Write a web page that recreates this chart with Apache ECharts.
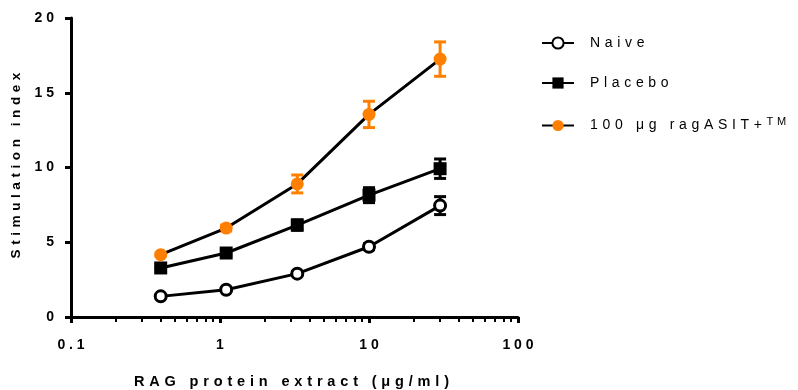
<!DOCTYPE html>
<html><head><meta charset="utf-8">
<script src="https://cdn.jsdelivr.net/npm/echarts@6/dist/echarts.min.js"></script>
<style>html,body{margin:0;padding:0;background:#fff}#c{width:798px;height:390px}</style>
</head><body><div id="c"></div>
<script>
var concentrations = [0.4, 1.1, 3.3, 10, 30];
var naiveValues = [1.38, 1.82, 2.9, 4.7, 7.45];
var naiveErrors = [0.1, 0.1, 0.15, 0.2, 0.6];
var placeboValues = [3.28, 4.28, 6.15, 8.15, 9.92];
var placeboErrors = [0.1, 0.15, 0.35, 0.5, 0.65];
var ragValues = [4.17, 5.95, 8.9, 13.55, 17.25];
var ragErrors = [0.1, 0.2, 0.6, 0.88, 1.15];
var seriesNames = ['Naive', 'Placebo', '100 μg ragASIT+'];
var yTicks = [0, 5, 10, 15, 20];
var xTicks = [0.1, 1, 10, 100];

function spaced(s, sep){ return String(s).split('').join(sep || ' '); }

function pts(vals){ return concentrations.map(function(c,i){return [c, vals[i]];}); }
function errData(vals, errs){ return concentrations.map(function(c,i){return [c, vals[i], errs[i]];}); }

function errSeries(vals, errs, color){
  return {
    type:'custom', data: errData(vals, errs), z: 1, silent:true,
    renderItem: function(params, api){
      var x = api.value(0), y = api.value(1), e = api.value(2);
      var top = api.coord([x, y+e]), bot = api.coord([x, y-e]);
      var hw = 6;
      return {type:'group', children:[
        {type:'line', shape:{x1:top[0],y1:top[1],x2:bot[0],y2:bot[1]}, style:{stroke:color,lineWidth:3}},
        {type:'line', shape:{x1:top[0]-hw,y1:top[1],x2:top[0]+hw,y2:top[1]}, style:{stroke:color,lineWidth:3}},
        {type:'line', shape:{x1:bot[0]-hw,y1:bot[1],x2:bot[0]+hw,y2:bot[1]}, style:{stroke:color,lineWidth:3}}
      ]};
    }
  };
}

var font = 'Liberation Sans, Arial, sans-serif';
var chart = echarts.init(document.getElementById('c'));
chart.setOption({
  animation:false,
  grid:{left:71, right:280, top:18, bottom:73, outerBoundsMode:'none', containLabel:false},
  xAxis:{
    type:'log', logBase:10, min:xTicks[0], max:xTicks[xTicks.length-1],
    name: spaced('RAG protein extract (μg/ml)', '\u2004'), nameLocation:'middle', nameGap:57,
    nameTextStyle:{fontFamily:font, fontWeight:'bold', fontSize:14.5, color:'#000', padding:[0,6,0,0]},
    axisLine:{lineStyle:{color:'#000', width:3}},
    axisTick:{show:true, length:6, lineStyle:{color:'#000', width:3}},
    minorTick:{show:true, splitNumber:9, length:5, lineStyle:{color:'#000', width:2}},
    splitLine:{show:false},
    axisLabel:{margin:21, fontFamily:font, fontWeight:'bold', fontSize:14, color:'#000',
      formatter:function(v){ return spaced(v); }}
  },
  yAxis:{
    type:'value', min:yTicks[0], max:yTicks[yTicks.length-1], interval:5,
    name: spaced('Stimulation index', '\u2004'), nameLocation:'middle', nameGap:46, nameRotate:90,
    nameTextStyle:{fontFamily:font, fontWeight:'bold', fontSize:13.6, color:'#000', padding:[0,0,0,4]},
    axisLine:{show:true, lineStyle:{color:'#000', width:3}},
    axisTick:{show:true, length:6, lineStyle:{color:'#000', width:3}},
    splitLine:{show:false},
    axisLabel:{margin:17, fontFamily:font, fontWeight:'bold', fontSize:14, color:'#000',
      formatter:function(v){ return spaced(v); }}
  },
  legend:{
    orient:'vertical', left:541, top:36, padding:0, itemGap:26, itemWidth:32, itemHeight:14,
    data: seriesNames,
    textStyle:{fontFamily:font, fontSize:14, color:'#000', padding:[0,0,0,11],
      rich:{sup:{fontFamily:font, fontSize:11, color:'#000', verticalAlign:'top', padding:[0,0,8,0]}}},
    formatter:function(n){
      if(n === seriesNames[2]) return spaced(n, '\u2004') + '\u2004{sup|T\u2004M}';
      return spaced(n, '\u2004');
    }
  },
  series:[
    errSeries(naiveValues, naiveErrors, '#000'),
    errSeries(placeboValues, placeboErrors, '#000'),
    errSeries(ragValues, ragErrors, '#FF8000'),
    {name:seriesNames[0], type:'line', data:pts(naiveValues), z:3, symbol:'circle', symbolSize:11,
      lineStyle:{color:'#000', width:3}, itemStyle:{color:'#fff', borderColor:'#000', borderWidth:3}},
    {name:seriesNames[1], type:'line', data:pts(placeboValues), z:3, symbol:'rect', symbolSize:13,
      lineStyle:{color:'#000', width:3}, itemStyle:{color:'#000'}},
    {name:seriesNames[2], type:'line', data:pts(ragValues), z:3, symbol:'circle', symbolSize:13,
      lineStyle:{color:'#000', width:3}, itemStyle:{color:'#FF8000'}}
  ]
});
</script></body></html>
